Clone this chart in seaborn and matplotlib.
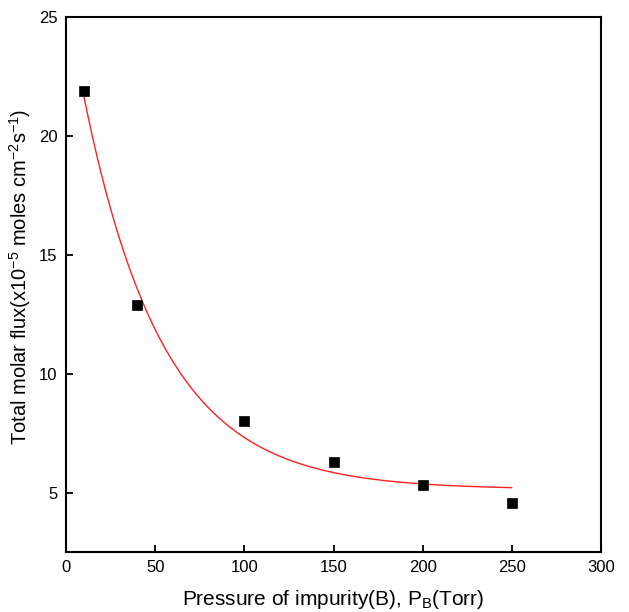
import numpy as np
import pandas as pd
import matplotlib
matplotlib.use("Agg")
import matplotlib.pyplot as plt
import seaborn as sns

# Data
pressure = [10, 40, 100, 150, 200, 250]
flux = [21.9, 12.9, 8.0, 6.3, 5.3, 4.55]

sns.set_style("ticks")
plt.rcParams['font.family'] = ['Liberation Sans', 'DejaVu Sans']
plt.rcParams['mathtext.default'] = 'regular'
plt.rcParams['text.color'] = 'black'
plt.rcParams['axes.labelcolor'] = 'black'
plt.rcParams['xtick.color'] = 'black'
plt.rcParams['ytick.color'] = 'black'

df = pd.DataFrame({"P": pressure, "F": flux})

# Exponential decay fit y = y0 + A*exp(-x/t), fitted from the data
xs = np.array(pressure, float)
ys = np.array(flux, float)
best = None
for t in np.linspace(10, 150, 2801):
    M = np.column_stack([np.ones_like(xs), np.exp(-xs / t)])
    coef, *_ = np.linalg.lstsq(M, ys, rcond=None)
    r = np.sum((M @ coef - ys) ** 2)
    if best is None or r < best[0]:
        best = (r, t, coef)
_, tau, (y0, A) = best
xf = np.linspace(min(pressure), max(pressure), 300)
fit = pd.DataFrame({"P": xf, "F": y0 + A * np.exp(-xf / tau)})

fig = plt.figure(figsize=(6.29, 6.12), dpi=100)
ax = fig.add_axes([66/629, 1-552/612, (601-66)/629, (552-17)/612])

sns.lineplot(data=fit, x="P", y="F", ax=ax, color="#ff2020", linewidth=1.0)
sns.scatterplot(data=df, x="P", y="F", ax=ax, marker="s", color="black",
                s=60, edgecolor="black", linewidth=0.5, zorder=3)

ax.set_xlim(0, 300)
ax.set_ylim(2.5, 25)
ax.set_xticks([0, 50, 100, 150, 200, 250, 300])
ax.set_yticks([5, 10, 15, 20, 25])
ax.tick_params(direction="in", length=5, width=1.3, labelsize=12, pad=6,
               colors="black")
for s in ax.spines.values():
    s.set_linewidth(1.5)
    s.set_color("black")
    s.set_visible(True)

ax.set_xlabel("Pressure of impurity(B), P$_B$(Torr)", fontsize=15, labelpad=9)
ax.set_ylabel("Total molar flux(x10$^{-5}$ moles cm$^{-2}$s$^{-1}$)", fontsize=14.5)
ax.yaxis.set_label_coords(-0.062, 0.515)

fig.savefig("out.png", dpi=100)
